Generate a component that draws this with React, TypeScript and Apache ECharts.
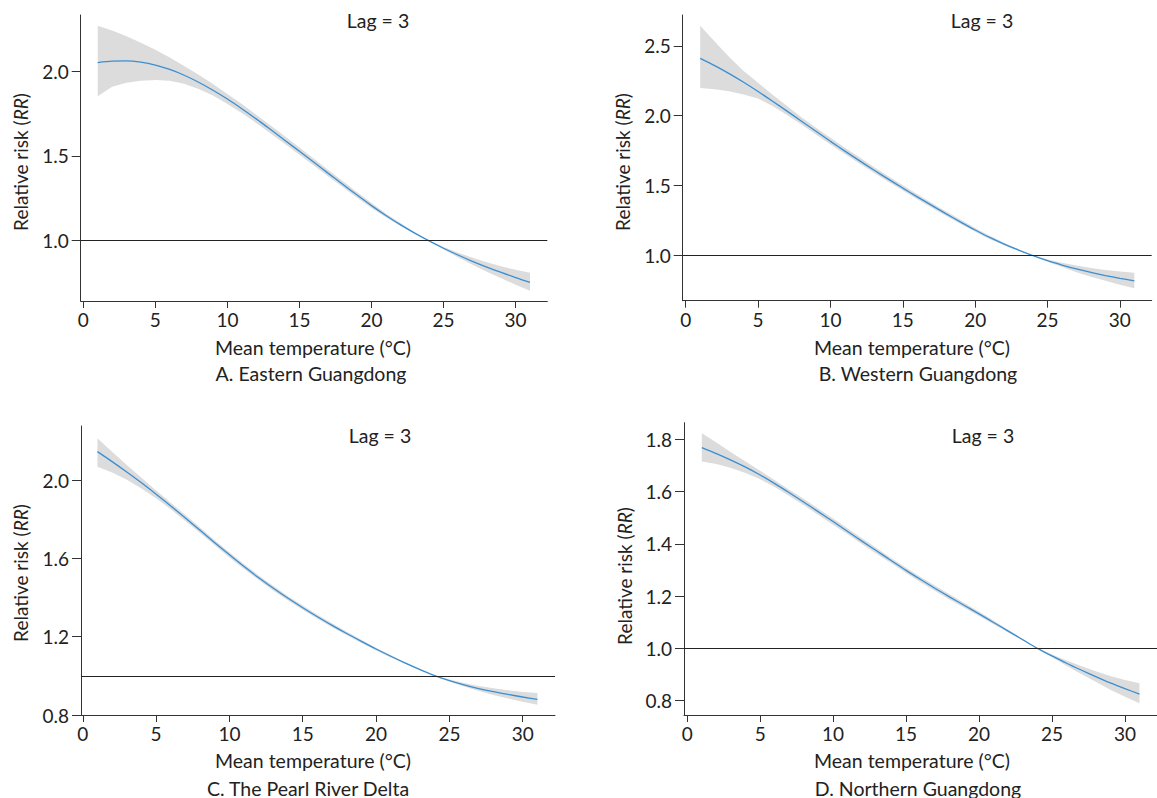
import React, { useEffect, useRef } from "react";
import * as echarts from "echarts";

// ---------- data ----------
const temps = [1, 2, 3, 4, 5, 6, 7, 8, 9, 10, 11, 12, 13, 14, 15, 16, 17, 18, 19, 20, 21, 22, 23, 24, 25, 26, 27, 28, 29, 30, 31];
const xTickValues = [0, 5, 10, 15, 20, 25, 30];

// A. Eastern Guangdong
const fitA = [2.05, 2.058, 2.06, 2.052, 2.035, 2.009, 1.975, 1.934, 1.887, 1.835, 1.778, 1.718, 1.655, 1.591, 1.527, 1.462, 1.397, 1.333, 1.269, 1.207, 1.149, 1.095, 1.045, 0.999, 0.956, 0.916, 0.879, 0.845, 0.813, 0.783, 0.755];
const upperA = [2.267, 2.238, 2.205, 2.166, 2.125, 2.079, 2.03, 1.978, 1.923, 1.865, 1.805, 1.743, 1.679, 1.614, 1.549, 1.483, 1.417, 1.352, 1.286, 1.222, 1.161, 1.104, 1.05, 1.0, 0.963, 0.93, 0.9, 0.873, 0.849, 0.829, 0.811];
const lowerA = [1.852, 1.908, 1.931, 1.943, 1.947, 1.942, 1.925, 1.894, 1.855, 1.806, 1.752, 1.694, 1.632, 1.57, 1.506, 1.443, 1.379, 1.316, 1.254, 1.193, 1.138, 1.087, 1.041, 0.998, 0.949, 0.903, 0.859, 0.818, 0.779, 0.741, 0.705];
const yTicksA = [1.0, 1.5, 2.0];

// B. Western Guangdong
const fitB = [2.41, 2.358, 2.301, 2.239, 2.173, 2.104, 2.033, 1.961, 1.889, 1.817, 1.747, 1.679, 1.612, 1.547, 1.483, 1.42, 1.359, 1.299, 1.24, 1.183, 1.13, 1.083, 1.04, 1.0, 0.964, 0.933, 0.905, 0.88, 0.858, 0.838, 0.819];
const upperB = [2.643, 2.53, 2.42, 2.32, 2.235, 2.15, 2.07, 1.99, 1.915, 1.843, 1.772, 1.703, 1.634, 1.568, 1.503, 1.439, 1.377, 1.316, 1.256, 1.197, 1.142, 1.092, 1.045, 1.001, 0.972, 0.949, 0.929, 0.912, 0.898, 0.887, 0.878];
const lowerB = [2.198, 2.19, 2.175, 2.152, 2.123, 2.07, 2.006, 1.938, 1.866, 1.795, 1.726, 1.658, 1.592, 1.528, 1.465, 1.403, 1.343, 1.284, 1.226, 1.17, 1.119, 1.075, 1.036, 0.999, 0.956, 0.918, 0.882, 0.85, 0.82, 0.792, 0.767];
const yTicksB = [1.0, 1.5, 2.0, 2.5];

// C. The Pearl River Delta
const fitC = [2.145, 2.094, 2.041, 1.986, 1.928, 1.868, 1.806, 1.743, 1.68, 1.618, 1.558, 1.501, 1.447, 1.396, 1.348, 1.302, 1.258, 1.216, 1.176, 1.137, 1.1, 1.065, 1.032, 1.001, 0.976, 0.954, 0.935, 0.919, 0.905, 0.892, 0.88];
const upperC = [2.213, 2.144, 2.077, 2.012, 1.947, 1.884, 1.821, 1.757, 1.693, 1.631, 1.57, 1.513, 1.459, 1.407, 1.359, 1.312, 1.268, 1.225, 1.184, 1.144, 1.106, 1.069, 1.035, 1.002, 0.981, 0.963, 0.948, 0.936, 0.926, 0.917, 0.912];
const lowerC = [2.068, 2.038, 2.001, 1.957, 1.907, 1.851, 1.791, 1.729, 1.667, 1.605, 1.546, 1.489, 1.435, 1.385, 1.337, 1.292, 1.248, 1.207, 1.168, 1.13, 1.094, 1.061, 1.029, 1.0, 0.971, 0.945, 0.922, 0.902, 0.884, 0.868, 0.852];
const yTicksC = [0.8, 1.2, 1.6, 2.0];

// D. Northern Guangdong
const fitD = [1.768, 1.745, 1.72, 1.693, 1.663, 1.63, 1.595, 1.559, 1.522, 1.485, 1.447, 1.409, 1.372, 1.335, 1.298, 1.263, 1.229, 1.196, 1.164, 1.132, 1.099, 1.066, 1.033, 1.0, 0.971, 0.943, 0.917, 0.892, 0.868, 0.846, 0.825];
const upperD = [1.823, 1.787, 1.75, 1.715, 1.679, 1.643, 1.607, 1.571, 1.534, 1.497, 1.458, 1.42, 1.383, 1.345, 1.308, 1.273, 1.239, 1.206, 1.173, 1.14, 1.106, 1.071, 1.036, 1.001, 0.976, 0.953, 0.932, 0.912, 0.894, 0.879, 0.866];
const lowerD = [1.715, 1.705, 1.69, 1.671, 1.647, 1.617, 1.583, 1.547, 1.51, 1.473, 1.436, 1.398, 1.361, 1.325, 1.288, 1.253, 1.219, 1.186, 1.155, 1.124, 1.092, 1.061, 1.03, 0.999, 0.966, 0.933, 0.902, 0.872, 0.842, 0.815, 0.79];
const yTicksD = [0.8, 1.0, 1.2, 1.4, 1.6, 1.8];

const captions = ["A. Eastern Guangdong", "B. Western Guangdong", "C. The Pearl River Delta", "D. Northern Guangdong"];
const lagLabel = "Lag = 3";
const xAxisTitle = "Mean temperature (°C)";
const yAxisTitle = "Relative risk ({i|RR})";
const referenceRR = 1.0;

// ---------- layout ----------
const panels = [
  { fit: fitA, upper: upperA, lower: lowerA, yTicks: yTicksA, caption: captions[0],
    grid: { left: 80.7, top: 15, width: 466.6, height: 286 }, xMin: -0.18, xMax: 32.2, yMin: 0.645, yMax: 2.33,
    lag: [378, 20], xName: [313, 347], cap: [311, 373], yName: [20, 162] },
  { fit: fitB, upper: upperB, lower: lowerB, yTicks: yTicksB, caption: captions[1],
    grid: { left: 682.7, top: 15, width: 469, height: 285.7 }, xMin: -0.21, xMax: 32.2, yMin: 0.678, yMax: 2.72,
    lag: [982, 20], xName: [912, 347], cap: [918, 373], yName: [622, 162] },
  { fit: fitC, upper: upperC, lower: lowerC, yTicks: yTicksC, caption: captions[2],
    grid: { left: 81, top: 426, width: 474, height: 289 }, xMin: -0.12, xMax: 32.2, yMin: 0.8, yMax: 2.276,
    lag: [380, 435], xName: [313, 760], cap: [308, 788], yName: [20, 573] },
  { fit: fitD, upper: upperD, lower: lowerD, yTicks: yTicksD, caption: captions[3],
    grid: { left: 684, top: 422.7, width: 479.5, height: 292.3 }, xMin: -0.22, xMax: 32.2, yMin: 0.745, yMax: 1.863,
    lag: [983, 435], xName: [912, 760], cap: [918, 788], yName: [624, 576] },
];

const FONT = "Lato, 'Open Sans', sans-serif";
const TEXT_COLOR = "#222";
const AXIS_COLOR = "#333";
const TITLE_SIZE = 19.5;
const TICK_SIZE = 19;

export default function App() {
  const ref = useRef<HTMLDivElement>(null);

  useEffect(() => {
    if (!ref.current) return;
    const chart = echarts.init(ref.current, undefined, { renderer: "svg" });

    const grid: any[] = [];
    const xAxis: any[] = [];
    const yAxis: any[] = [];
    const series: any[] = [];
    const graphic: any[] = [];

    panels.forEach((p, i) => {
      grid.push({ ...p.grid, containLabel: false });
      xAxis.push({
        type: "value", gridIndex: i, min: p.xMin, max: p.xMax,
        axisLine: { show: true, onZero: false, lineStyle: { color: AXIS_COLOR, width: 1 } },
        axisTick: { show: true, customValues: xTickValues, length: 7, lineStyle: { color: AXIS_COLOR } },
        axisLabel: { show: true, customValues: xTickValues, margin: 9, fontSize: TICK_SIZE, fontFamily: FONT, color: TEXT_COLOR },
        splitLine: { show: false },
      });
      yAxis.push({
        type: "value", gridIndex: i, min: p.yMin, max: p.yMax,
        axisLine: { show: true, onZero: false, lineStyle: { color: AXIS_COLOR, width: 1 } },
        axisTick: { show: true, customValues: p.yTicks, length: 9, lineStyle: { color: AXIS_COLOR } },
        axisLabel: { show: true, customValues: p.yTicks, margin: 12, fontSize: TICK_SIZE, fontFamily: FONT, color: TEXT_COLOR,
          formatter: (v: number) => v.toFixed(1) },
        splitLine: { show: false },
      });
      const up = p.upper, lo = p.lower;
      series.push({
        type: "custom", xAxisIndex: i, yAxisIndex: i, silent: true, z: 1,
        data: [[temps[0], p.fit[0]]],
        renderItem: (_params: any, api: any) => {
          const pts: number[][] = [];
          for (let k = 0; k < temps.length; k++) pts.push(api.coord([temps[k], up[k]]));
          for (let k = temps.length - 1; k >= 0; k--) pts.push(api.coord([temps[k], lo[k]]));
          return { type: "polygon", shape: { points: pts }, style: { fill: "#dcdcdc", stroke: "none" } };
        },
      });
      series.push({
        type: "line", xAxisIndex: i, yAxisIndex: i, z: 3,
        data: temps.map((t, k) => [t, p.fit[k]]),
        showSymbol: false, smooth: 0.3,
        lineStyle: { color: "#3a8fd2", width: 1.3 },
        markLine: {
          silent: true, symbol: ["none", "none"], label: { show: false },
          lineStyle: { color: "#222", width: 1, type: "solid" },
          data: [{ yAxis: referenceRR }],
        },
      });
      const txt = (x: number, y: number, text: string) => ({
        type: "text", x, y,
        style: { text, fontSize: TITLE_SIZE, fontFamily: FONT, fill: TEXT_COLOR,
          textAlign: "center", textVerticalAlign: "middle", align: "center", verticalAlign: "middle" },
      });
      graphic.push(txt(p.lag[0], p.lag[1], lagLabel));
      graphic.push(txt(p.xName[0], p.xName[1], xAxisTitle));
      graphic.push(txt(p.cap[0], p.cap[1], p.caption));
      graphic.push({
        type: "text", x: p.yName[0], y: p.yName[1], rotation: Math.PI / 2,
        style: {
          text: yAxisTitle, fontSize: 19, fontFamily: FONT, fill: TEXT_COLOR,
          textAlign: "center", textVerticalAlign: "middle", align: "center", verticalAlign: "middle",
          rich: { i: { fontStyle: "italic", fontSize: 19, fontFamily: FONT, fill: TEXT_COLOR, color: TEXT_COLOR } },
        },
      });
    });

    chart.setOption({
      animation: false,
      backgroundColor: "#ffffff",
      grid, xAxis, yAxis, series, graphic,
    });
    return () => chart.dispose();
  }, []);

  return (
    <div ref={ref} style={{ position: "absolute", left: 0, top: 0, width: 1157, height: 798 }} />
  );
}
